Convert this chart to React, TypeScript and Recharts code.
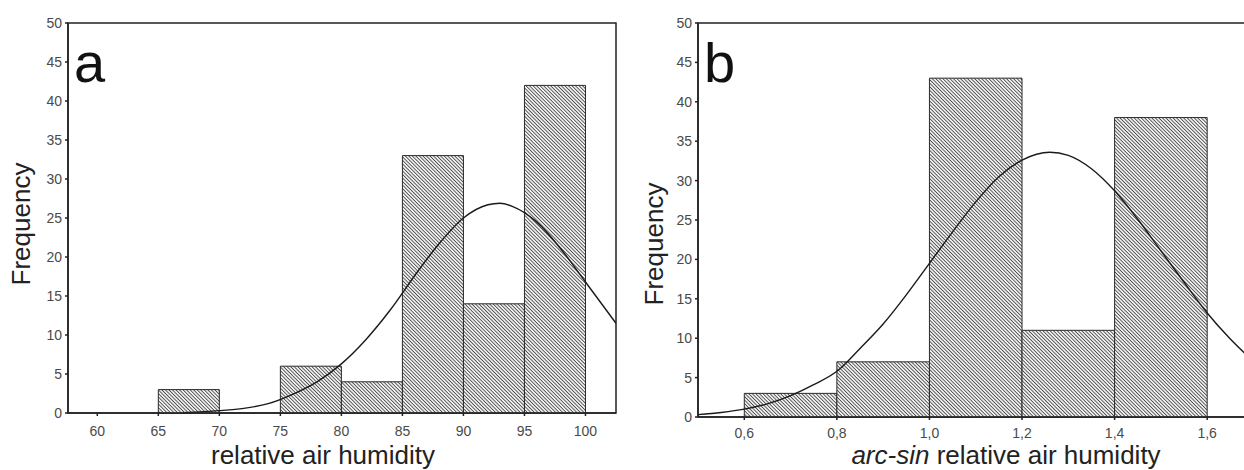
import React from "react";
import { ComposedChart, Line, XAxis, YAxis, ReferenceArea, Label } from "recharts";

// panel a: relative air humidity (%)
const humEdges = [60, 65, 70, 75, 80, 85, 90, 95, 100];
const humCounts = [0, 3, 0, 6, 4, 33, 14, 42];
const humTicks = [60, 65, 70, 75, 80, 85, 90, 95, 100];
const humFitX = [67, 70, 72, 74, 76, 78, 80, 82, 84, 86, 88, 90, 92, 93, 94, 96, 98, 100, 102.5];
const humFitY = [0.05, 0.3, 0.6, 1.2, 2.4, 4.0, 6.3, 9.4, 13.2, 17.6, 21.7, 25.0, 26.7, 26.9, 26.5, 24.5, 21.0, 16.8, 11.5];

// panel b: arc-sin transformed
const asinEdges = [0.6, 0.8, 1.0, 1.2, 1.4, 1.6];
const asinCounts = [3, 7, 43, 11, 38];
const asinTicks = [0.6, 0.8, 1.0, 1.2, 1.4, 1.6];
const asinFitX = [0.5, 0.55, 0.6, 0.65, 0.7, 0.75, 0.8, 0.85, 0.9, 0.95, 1.0, 1.05, 1.1, 1.15, 1.2, 1.26, 1.3, 1.35, 1.4, 1.45, 1.5, 1.55, 1.6, 1.65, 1.69];
const asinFitY = [0.3, 0.58, 1.0, 1.67, 2.7, 4.1, 5.8, 8.7, 11.8, 15.5, 19.5, 23.5, 27.3, 30.5, 32.6, 33.6, 33.2, 31.5, 28.7, 25.1, 21.1, 17.1, 13.2, 9.9, 7.6];

const freqTicks = [0, 5, 10, 15, 20, 25, 30, 35, 40, 45, 50];

const FONT = "'Liberation Sans', Arial, Helvetica, sans-serif";
const INK = "#222";
const TICK = { fill: "#4a4a4a", fontSize: 14, fontFamily: FONT };

type PanelProps = {
  id: string;
  width: number;
  edges: number[];
  counts: number[];
  fitX: number[];
  fitY: number[];
  ticks: number[];
  domain: [number, number];
  fmt: (v: number) => string;
  xLabel: React.ReactNode;
  xLabelX: number;
  yLabelX: number;
  yLabelY: number;
  xAxisHeight: number;
  tickMargin: number;
  margin: { top: number; right: number; bottom: number; left: number };
};

function Panel(p: PanelProps) {
  const data = p.fitX.map((x, i) => ({ x, y: p.fitY[i] }));
  const bins = p.counts
    .map((c, i) => ({ from: p.edges[i], to: p.edges[i + 1], c }))
    .filter((b) => b.c > 0);

  return (
    <ComposedChart width={p.width} height={470} data={data} margin={p.margin}>
      <defs>
        <pattern id={p.id} width={2.5} height={2.5} patternUnits="userSpaceOnUse" patternTransform="rotate(-45)">
          <rect width={2.5} height={2.5} fill="#f6f6f6" />
          <line x1={1.25} y1={0} x2={1.25} y2={2.5} stroke="#4a4a4a" strokeWidth={0.9} />
        </pattern>
      </defs>
      <XAxis
        type="number"
        dataKey="x"
        domain={p.domain}
        ticks={p.ticks}
        tickFormatter={p.fmt}
        allowDataOverflow
        height={p.xAxisHeight}
        tickSize={3}
        tickMargin={p.tickMargin}
        tick={TICK}
        stroke={INK}
        strokeWidth={1.5}
      >
        <Label
          content={() => (
            <text x={p.xLabelX} y={464} textAnchor="middle" fontSize={26} fontFamily={FONT} fill={INK}>
              {p.xLabel}
            </text>
          )}
        />
      </XAxis>
      <YAxis
        type="number"
        domain={[0, 50]}
        ticks={freqTicks}
        width={60}
        tickSize={3}
        tickMargin={3}
        tick={TICK}
        stroke={INK}
        strokeWidth={1.5}
      >
        <Label
          content={() => (
            <text
              x={p.yLabelX}
              y={p.yLabelY}
              transform={`rotate(-90 ${p.yLabelX} ${p.yLabelY})`}
              textAnchor="middle"
              fontSize={26}
              fontFamily={FONT}
              fill={INK}
            >
              Frequency
            </text>
          )}
        />
      </YAxis>
      {/* plot frame */}
      <ReferenceArea
        x1={p.domain[0]}
        x2={p.domain[1]}
        y1={0}
        y2={50}
        fill="none"
        fillOpacity={0}
        stroke={INK}
        strokeWidth={1.5}
      />
      {bins.map((b) => (
        <ReferenceArea
          key={b.from}
          x1={b.from}
          x2={b.to}
          y1={0}
          y2={b.c}
          fill={`url(#${p.id})`}
          fillOpacity={1}
          stroke="#2a2a2a"
          strokeWidth={1}
        />
      ))}
      <Line
        type="monotone"
        dataKey="y"
        stroke="#1a1a1a"
        strokeWidth={1.4}
        dot={false}
        isAnimationActive={false}
      />
    </ComposedChart>
  );
}

export default function App() {
  return (
    <div style={{ position: "absolute", left: 0, top: 0, width: 1244, height: 470, background: "#fff", overflow: "hidden" }}>
      <div style={{ position: "absolute", left: 0, top: 0 }}>
        <Panel
          id="hatchA"
          width={622}
          edges={humEdges}
          counts={humCounts}
          fitX={humFitX}
          fitY={humFitY}
          ticks={humTicks}
          domain={[57.6, 102.5]}
          fmt={(v) => String(v)}
          xLabel="relative air humidity"
          xLabelX={323}
          yLabelX={30}
          yLabelY={224}
          xAxisHeight={57}
          tickMargin={10}
          margin={{ top: 23, right: 6, bottom: 0, left: 8 }}
        />
      </div>
      <div style={{ position: "absolute", left: 622, top: 0 }}>
        <Panel
          id="hatchB"
          width={628}
          edges={asinEdges}
          counts={asinCounts}
          fitX={asinFitX}
          fitY={asinFitY}
          ticks={asinTicks}
          domain={[0.5, 1.6925]}
          fmt={(v) => v.toFixed(1).replace(".", ",")}
          xLabel={
            <>
              <tspan fontStyle="italic">arc-sin</tspan> relative air humidity
            </>
          }
          xLabelX={384}
          yLabelX={41}
          yLabelY={244}
          xAxisHeight={53}
          tickMargin={8}
          margin={{ top: 23, right: 0, bottom: 0, left: 16 }}
        />
      </div>
      {/* panel letters */}
      <svg width={1244} height={470} style={{ position: "absolute", left: 0, top: 0, pointerEvents: "none" }}>
        <text x={74} y={82} fontSize={56} fontFamily={FONT} fill="#111">a</text>
        <text x={704} y={82} fontSize={56} fontFamily={FONT} fill="#111">b</text>
      </svg>
    </div>
  );
}
